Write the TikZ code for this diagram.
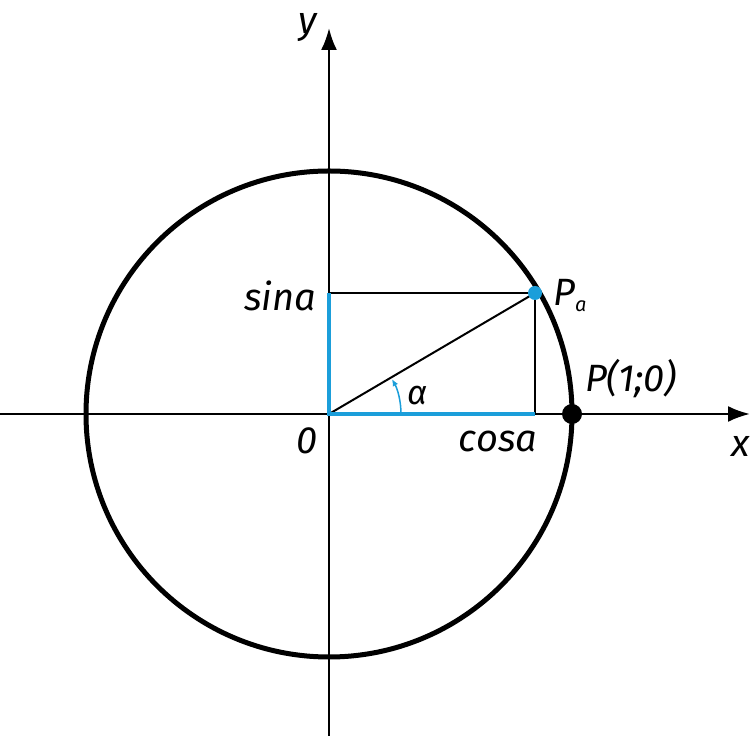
\documentclass[tikz,border=0pt]{standalone}
\usepackage{fontspec}
\setmainfont{Fira Sans}
\usetikzlibrary{arrows.meta,calc}
\definecolor{myblue}{RGB}{27,158,218}
\tikzset{
  axis/.style={line width=2.5pt,-{Latex[length=22pt,width=16pt]}},
  thinline/.style={line width=2pt},
  blueline/.style={line width=4pt,myblue},
  lbl/.style={font=\fontsize{38}{42}\selectfont\itshape,inner sep=0pt},
}
\begin{document}
\begin{tikzpicture}[x=1pt,y=1pt]
\useasboundingbox (0,0) rectangle (750,736);
\coordinate (O) at (329,322);
\coordinate (Pa) at ($(O)+(206,121)$);
\coordinate (Pc) at (Pa|-O);
\coordinate (Ps) at (O|-Pa);
\coordinate (P1) at ($(O)+(243,0)$);
\coordinate (xl) at (0,322);
\coordinate (xr) at (750,322);
\coordinate (yb) at (329,0);
\coordinate (yt) at (329,708);
% axes
\draw[axis] (xl) -- (xr);
\draw[axis] (yb) -- (yt);
% circle
\draw[line width=5pt] (O) circle[radius=243];
% rectangle
\draw[thinline] (Ps) -- (Pa) -- (Pc);
\draw[thinline] (O) -- (Pa);
\draw[blueline] (Ps) -- (O) -- (Pc);
% angle arc
\draw[myblue,line width=1.5pt,-{Latex[length=7pt,width=6pt]}] ($(O)+(0:72)$) arc[start angle=0,end angle=29,radius=72];
% points
\fill[myblue] (Pa) circle[radius=7];
\fill (P1) circle[radius=10];
% labels
\node[lbl] (ly) at (308,708) {y};
\node[lbl,anchor=east] (lx) at (750,290) {x};
\node[lbl] (l0) at (307,295) {0};
\node[lbl] (lcos) at (498,295) {cosa};
\node[lbl] (lsin) at (280,440) {sina};
\node[lbl] (lPa) at (570,440) {P\raisebox{-6pt}{\fontsize{20}{22}\selectfont a}};
\node[lbl] (lP1) at (631,357) {P(1;0)};
\node[lbl,font=\fontsize{34}{38}\selectfont\itshape] (la) at (418,340) {α};
\end{tikzpicture}
\end{document}
